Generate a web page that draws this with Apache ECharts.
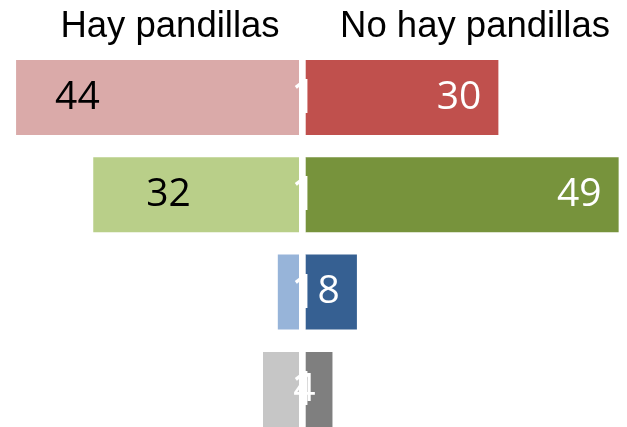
<!DOCTYPE html>
<html>
<head>
<meta charset="utf-8">
<script src="https://cdn.jsdelivr.net/npm/echarts@6/dist/echarts.min.js"></script>
<style>
  html, body { margin: 0; padding: 0; background: #fff; }
  #main { width: 627px; height: 427px; }
</style>
</head>
<body>
<div id="main"></div>
<script>
// filas (de arriba a abajo)
const categories = ['Fila 1', 'Fila 2', 'Fila 3', 'Fila 4']
const hayPandillas = [44, 32, 3.3, 5.6]
const centro = [1, 1, 1, 1]
const noHayPandillas = [30, 48.7, 8, 4.2]

const leftColors = ['#DAAAA9', '#B9CF89', '#97B4D9', '#C6C6C6']
const rightColors = ['#C0504D', '#77933C', '#366092', '#7F7F7F']
const leftLabelGap = [39, 53, null, null]

const labelFont = { fontFamily: 'Open Sans', fontSize: 39 }
const titleFont = { fontFamily: 'Liberation Sans', fontSize: 36.5, fontWeight: 'normal', color: '#000' }

const chart = echarts.init(document.getElementById('main'))

const option = {
  animation: false,
  title: [
    { text: 'Hay pandillas', left: 165, top: 3, textAlign: 'center', textStyle: titleFont },
    { text: 'No hay pandillas', left: 470, top: 3, textAlign: 'center', textStyle: titleFont },
  ],
  grid: { left: 0, right: 0, top: 48.8, height: 389.3, outerBoundsMode: 'none' },
  xAxis: { type: 'value', min: -46.5, max: 51, show: false },
  yAxis: { type: 'category', data: categories, inverse: true, show: false },
  series: [
    {
      name: 'Hay pandillas',
      type: 'bar',
      stack: 'total',
      barWidth: 75,
      data: hayPandillas.map((v, i) => ({
        value: -v,
        itemStyle: { color: leftColors[i] },
        label: {
          show: leftLabelGap[i] !== null,
          position: 'insideLeft',
          distance: leftLabelGap[i] || 0,
        },
      })),
      label: {
        color: '#000',
        ...labelFont,
        formatter: (p) => Math.round(Math.abs(p.value)),
      },
    },
    {
      name: 'centro',
      type: 'bar',
      stack: 'total',
      barWidth: 75,
      z: 3,
      itemStyle: { color: '#fff' },
      data: centro,
      label: {
        show: true,
        position: 'inside',
        offset: [2, 2],
        color: '#fff',
        fontFamily: 'Open Sans',
        fontSize: 48,
      },
    },
    {
      name: 'No hay pandillas',
      type: 'bar',
      stack: 'total',
      barWidth: 75,
      data: noHayPandillas.map((v, i) => ({ value: v, itemStyle: { color: rightColors[i] } })),
      label: {
        show: true,
        position: 'insideRight',
        distance: 17,
        color: '#fff',
        ...labelFont,
        formatter: (p) => Math.round(p.value),
      },
    },
  ],
}

chart.setOption(option)
</script>
</body>
</html>
